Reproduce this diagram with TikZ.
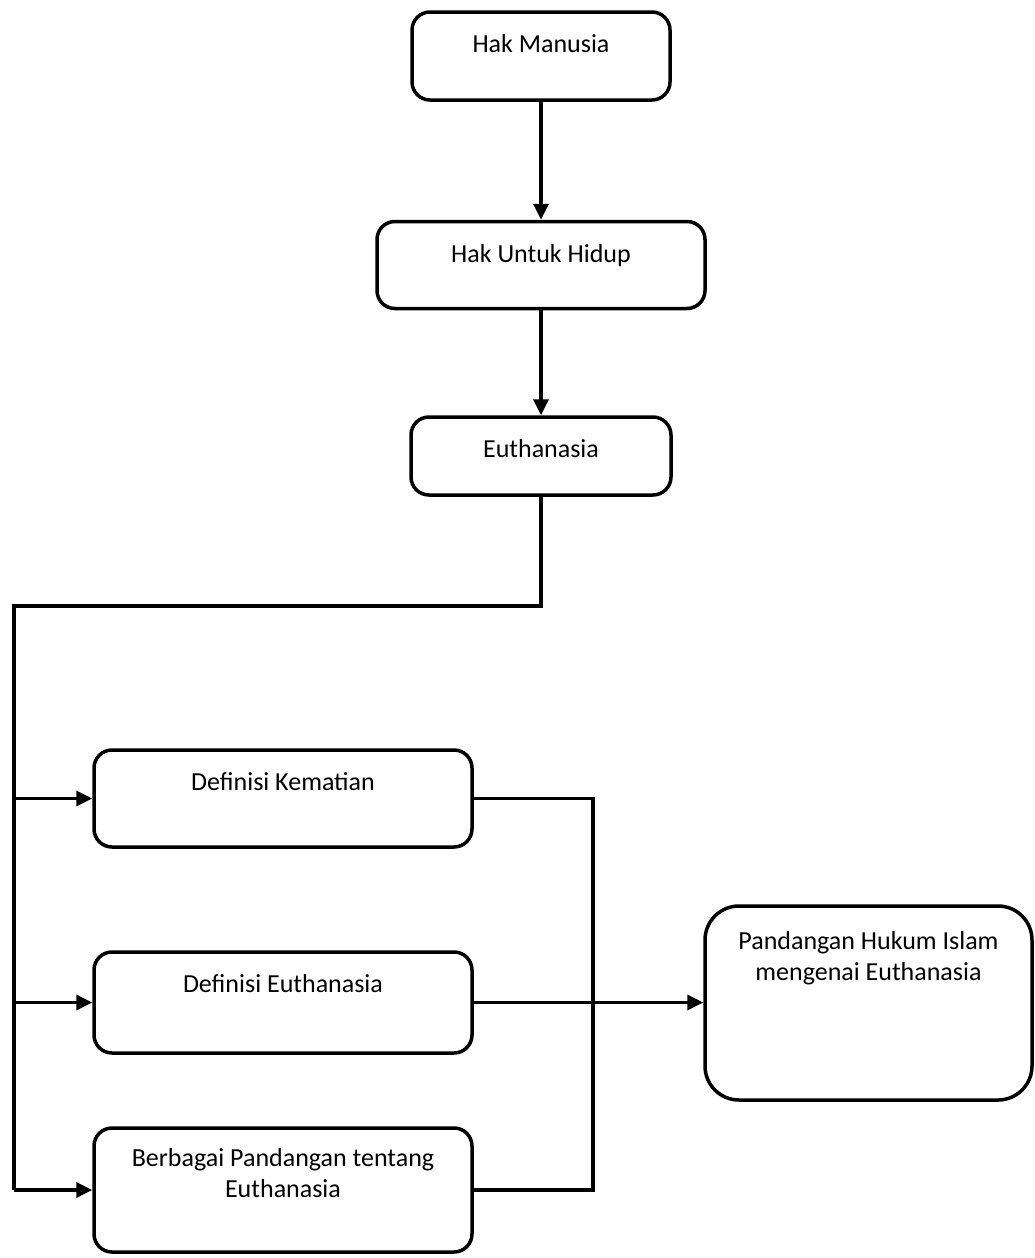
\documentclass[tikz,border=0pt]{standalone}
\usepackage{fontspec}
\setmainfont{Carlito}
\usepackage{tikz}
\usetikzlibrary{arrows.meta, positioning}
\tikzstyle{block} = [rectangle, rounded corners=18pt, draw=black, line width=3.5pt, inner sep=0pt]
\tikzstyle{caption} = [below=24pt, inner sep=0pt, align=center, font=\fontsize{26pt}{31pt}\selectfont]
\tikzstyle{arrow} = [line width=3.5pt, -{Triangle[length=16pt, width=15pt]}]
\tikzstyle{line} = [line width=3.5pt]

\begin{document}
\begin{tikzpicture}[x=1pt, y=-1pt]
  \useasboundingbox (0,0) rectangle (1034,1258);
  % main chain
  \node (hak)   [block, minimum width=258pt, minimum height=88pt, label={[caption]north:Hak Manusia}] at (541,56) {};
  \node (hidup) [block, minimum width=328pt, minimum height=87pt, below=118pt of hak, label={[caption]north:Hak Untuk Hidup}] {};
  \node (euth)  [block, minimum width=260pt, minimum height=78pt, below=105pt of hidup, label={[caption]north:Euthanasia}] {};
  % sub topics
  \node (defmati)  [block, minimum width=378pt, minimum height=97pt, label={[caption]north:Definisi Kematian}] at (283,798.5) {};
  \node (defeuth)  [block, minimum width=378pt, minimum height=101pt, label={[caption]north:Definisi Euthanasia}] at (283,1002.5) {};
  \node (pandang)  [block, minimum width=378pt, minimum height=124pt, label={[caption, below=22pt]north:Berbagai Pandangan tentang\\Euthanasia}] at (283,1190) {};
  \node (islam)    [block, rounded corners=34pt, minimum width=327pt, minimum height=194pt, label={[caption, below=27pt]north:Pandangan Hukum Islam\\mengenai Euthanasia}] at (868.5,1003) {};

  \coordinate (bus)  at (14,606);
  \coordinate (join) at (593,1002.5);

  \draw[arrow] (hak)   -- (hidup);
  \draw[arrow] (hidup) -- (euth);
  \draw[line] (euth.south) |- (bus) -- (bus |- pandang.west);
  \draw[arrow] (bus |- defmati.west) -- (defmati.west);
  \draw[arrow] (bus |- defeuth.west) -- (defeuth.west);
  \draw[arrow] (bus |- pandang.west) -- (pandang.west);
  \draw[line] (defmati.east) -| (join);
  \draw[line] (pandang.east) -| (join);
  \draw[arrow] (defeuth.east) -- (defeuth.east -| islam.west);
\end{tikzpicture}
\end{document}
